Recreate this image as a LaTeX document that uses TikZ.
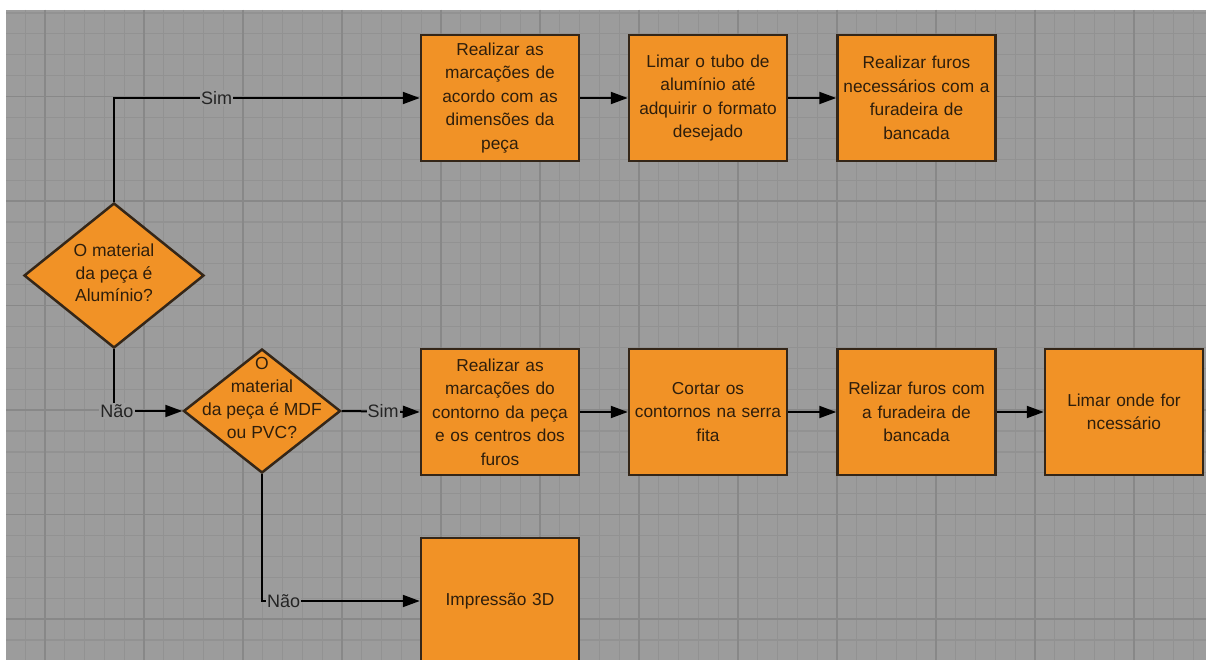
\documentclass[tikz,border=0pt]{standalone}
\usepackage{fontspec}
\setmainfont{Liberation Sans}
\usetikzlibrary{shapes.geometric,arrows.meta}
\definecolor{bg}{RGB}{156,156,156}
\definecolor{minorg}{RGB}{146,146,146}
\definecolor{majorg}{RGB}{136,136,136}
\definecolor{orangef}{RGB}{241,146,38}
\definecolor{boxline}{RGB}{52,38,24}
\definecolor{boxtext}{RGB}{46,30,12}
\definecolor{lbltext}{RGB}{36,36,36}
\begin{document}
\begin{tikzpicture}[x=1pt,y=-1pt,
  minorline/.style={draw=minorg,line width=1.2pt},
  majorline/.style={draw=majorg,line width=1.5pt},
  stepbox/.style={draw=boxline,line width=2.5pt,fill=orangef,minimum width=158pt,minimum height=126pt,inner sep=0pt,text width=152pt,align=center,font=\fontsize{17.3}{23.5}\selectfont,text=boxtext},
  decision/.style={draw=boxline,line width=2.5pt,fill=orangef,shape=diamond,inner sep=0pt},
  dtext/.style={align=center,inner sep=0pt,text=boxtext,font=\fontsize{17.5}{22.5}\selectfont},
  conn/.style={draw=black,line width=2pt,-{Triangle[length=17pt,width=12pt]}},
  lbl/.style={fill=bg,inner sep=1pt,text=lbltext,font=\fontsize{18}{20}\selectfont}]
\clip (0,0) rectangle (1206,660);
\fill[white] (0,0) rectangle (1206,660);
\fill[bg] (6,10) rectangle (1206,660);
\foreach \k in {-1,...,58} \draw[minorline] ({45+19.8*\k},10) -- ({45+19.8*\k},660);
\foreach \k in {0,...,30} \draw[minorline] (6,{13+20.9*\k}) -- (1206,{13+20.9*\k});
\foreach \k in {0,...,11} \draw[majorline] ({45+99*\k},10) -- ({45+99*\k},660);
\foreach \k in {0,...,5} \draw[majorline] (6,{96.6+104.5*\k}) -- (1206,{96.6+104.5*\k});

% decisions
\node[decision,minimum width=180pt,minimum height=145pt] (d1) at (114,275.5) {};
\node[dtext] (d1t) at (114,273) {O material\\da peça é\\Alumínio?};
\node[decision,minimum width=157pt,minimum height=124pt] (d2) at (262,411) {};
\node[dtext,font=\fontsize{17.5}{23}\selectfont] (d2t) at (262,397.5) {O\\material\\da peça é MDF\\ou PVC?};

% top row
\node[stepbox] (a1) at (500,98) {Realizar as\\marcações de\\acordo com as\\dimensões da\\peça};
\node[stepbox] (a2) at (708,98) {Limar o tubo de\\alumínio até\\adquirir o formato\\desejado};
\node[stepbox] (a3) at (916.5,98) {Realizar furos\\necessários com a\\furadeira de\\bancada};

% second row
\node[stepbox] (b1) at (500,412) {Realizar as\\marcações do\\contorno da peça\\e os centros dos\\furos};
\node[stepbox] (b2) at (708,412) {Cortar os\\contornos na serra\\fita};
\node[stepbox] (b3) at (916.5,412) {Relizar furos com\\a furadeira de\\bancada};
\node[stepbox] (b4) at (1124,412) {Limar onde for\\ncessário};

% third row
\node[stepbox] (c1) at (500,601) {Impressão 3D};

% connectors
\draw[conn] (d1.north) |- node[lbl,pos=0.668] (s1) {Sim} (a1.west);
\draw[conn] (a1.east) -- (a2.west);
\draw[conn] (a2.east) -- (a3.west);
\draw[conn] (d1.south) |- node[lbl,pos=0.5,xshift=3pt] (n1) {Não} (d2.west);
\draw[conn] (d2.east) -- node[lbl,pos=0.53] (s2) {Sim} (b1.west);
\draw[conn] (b1.east) -- (b2.west);
\draw[conn] (b2.east) -- (b3.west);
\draw[conn] (b3.east) -- (b4.west);
\draw[conn] (d2.south) |- node[lbl,pos=0.5,anchor=west,xshift=3pt] (n2) {Não} (c1.west);
\end{tikzpicture}
\end{document}
